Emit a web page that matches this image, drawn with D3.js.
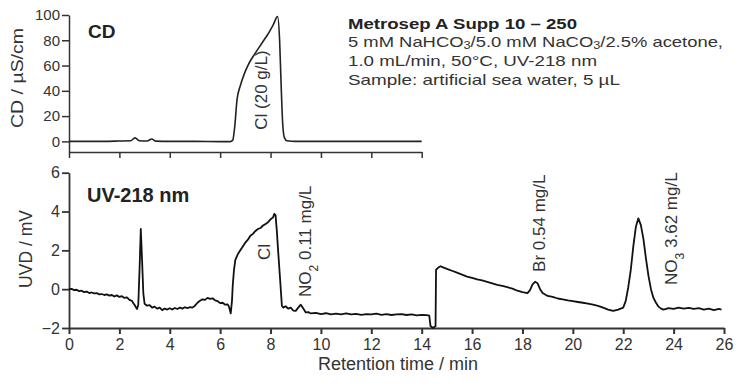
<!DOCTYPE html>
<html>
<head>
<meta charset="utf-8">
<script src="https://cdn.jsdelivr.net/npm/d3@7"></script>
<style>
    body { margin: 0; background: #fff; }
    svg { font-family: Arial, "Liberation Sans", Helvetica, sans-serif; }
    .axis text { fill: #333; }
    .axis path, .axis line { stroke: #333; }
</style>
</head>
<body>
<svg id="chart" width="750" height="386"></svg>
<script>
// Conductivity trace (top panel), time in min, signal in µS/cm
const cdTime = [0, 1, 2, 2.45, 2.62, 2.8, 3.1, 3.28, 3.45, 4, 5, 6, 6.4, 6.5, 6.58, 6.67,
    6.8, 6.95, 7.1, 7.3, 7.5, 7.7, 7.9, 8.1, 8.28, 8.36, 8.42, 8.48, 8.55, 8.65, 9, 10, 12, 14];
const cdSignal = [0, 0, 0.3, 0.5, 2.8, 0.5, 0.3, 1.9, 0.2, 0, 0, -0.2, -0.2, 1, 12, 33,
    44, 53, 60, 67, 73, 79, 85, 92, 98.7, 80, 45, 15, 3, 0.5, 0, 0, 0, 0];

// UV trace (bottom panel), time in min, signal in mV
const uvTime = [0, 0.1, 0.2, 0.3, 0.4, 0.5, 0.6, 0.7, 0.8, 0.9, 1.0, 1.1, 1.2, 1.3, 1.4, 1.5,
    1.6, 1.7, 1.8, 1.9, 2.0, 2.1, 2.2, 2.3, 2.4, 2.5, 2.55, 2.6, 2.65, 2.7, 2.75, 2.8, 2.85,
    2.9, 2.95, 3.0, 3.1, 3.2, 3.3, 3.4, 3.5, 3.6, 3.7, 3.8, 3.9, 4.0, 4.1, 4.2, 4.3, 4.4, 4.5,
    4.6, 4.7, 4.8, 4.9, 5.0, 5.1, 5.2, 5.3, 5.4, 5.5, 5.6, 5.7, 5.8, 5.9, 6.0, 6.1, 6.2, 6.3,
    6.35, 6.42, 6.47, 6.5, 6.55, 6.6, 6.7, 6.8, 6.9, 7.0, 7.1, 7.2, 7.3, 7.4, 7.5, 7.6, 7.7,
    7.8, 7.9, 8.0, 8.1, 8.15, 8.2, 8.25, 8.3, 8.38, 8.45, 8.5, 8.6, 8.7, 8.8, 8.9, 9.0, 9.1,
    9.2, 9.3, 9.4, 9.5, 9.6, 9.8, 10, 10.2, 10.4, 10.6, 10.8, 11, 11.2, 11.4, 11.6, 11.8, 12,
    12.2, 12.4, 12.6, 12.8, 13, 13.2, 13.4, 13.6, 13.8, 14, 14.2, 14.3, 14.35, 14.45, 14.55,
    14.57, 14.65, 14.75, 14.85, 15, 15.2, 15.4, 15.6, 15.8, 16, 16.2, 16.4, 16.6, 16.8, 17,
    17.2, 17.4, 17.6, 17.8, 18, 18.2, 18.3, 18.4, 18.5, 18.6, 18.7, 18.8, 19, 19.2, 19.4,
    19.6, 19.8, 20, 20.2, 20.4, 20.6, 20.8, 21, 21.2, 21.4, 21.6, 21.8, 22.0, 22.1, 22.2,
    22.3, 22.4, 22.5, 22.6, 22.7, 22.8, 22.9, 23.0, 23.1, 23.2, 23.3, 23.4, 23.5, 23.6, 23.8,
    24, 24.2, 24.4, 24.6, 24.8, 25, 25.2, 25.4, 25.6, 25.8, 25.9];
const uvSignal = [0.0, 0.02, -0.05, -0.03, -0.1, -0.08, -0.15, -0.12, -0.2, -0.17, -0.22, -0.2,
    -0.27, -0.25, -0.3, -0.27, -0.33, -0.3, -0.38, -0.32, -0.4, -0.36, -0.45, -0.42, -0.55,
    -0.6, -0.72, -0.8, -0.92, -1.02, -0.8, 1.0, 3.1, 1.5, -0.2, -0.75, -0.85, -0.82, -0.95,
    -0.9, -1.0, -0.95, -1.08, -1.0, -1.05, -0.98, -1.05, -0.97, -1.02, -0.95, -1.0, -0.93,
    -0.98, -0.92, -0.95, -0.85, -0.7, -0.6, -0.52, -0.55, -0.45, -0.5, -0.47, -0.58, -0.62,
    -0.72, -0.7, -0.8, -0.78, -0.9, -1.25, -0.6, 0.2, 1.0, 1.5, 1.8, 2.0, 2.2, 2.4, 2.55,
    2.75, 2.85, 3.0, 3.1, 3.15, 3.28, 3.35, 3.45, 3.6, 3.7, 3.88, 3.8, 3.0, 2.0, 0.5, -0.85,
    -0.95, -0.88, -1.0, -0.95, -1.1, -1.12, -0.95, -0.8, -1.0, -1.2, -1.18, -1.25, -1.22,
    -1.28, -1.24, -1.3, -1.26, -1.3, -1.25, -1.3, -1.27, -1.32, -1.28, -1.3, -1.26, -1.32,
    -1.29, -1.33, -1.3, -1.28, -1.33, -1.3, -1.35, -1.32, -1.34, -1.36, -1.9, -2.0, -1.9,
    1.0, 1.1, 1.18, 1.12, 1.05, 0.95, 0.85, 0.75, 0.65, 0.58, 0.5, 0.45, 0.38, 0.3, 0.22,
    0.17, 0.1, 0.03, -0.08, -0.15, -0.2, -0.05, 0.25, 0.38, 0.3, 0.0, -0.2, -0.35, -0.4,
    -0.48, -0.52, -0.58, -0.62, -0.66, -0.7, -0.74, -0.8, -0.86, -0.95, -1.05, -1.12, -1.05,
    -0.95, -0.6, 0.1, 1.0, 2.2, 3.2, 3.65, 3.3, 2.6, 1.6, 0.7, 0.0, -0.45, -0.7, -0.9, -1.0,
    -1.05, -0.98, -1.02, -0.95, -1.0, -0.96, -1.02, -0.98, -1.05, -1.0, -1.08, -1.02, -1.05];

const timeTicks = [0, 2, 4, 6, 8, 10, 12, 14, 16, 18, 20, 22, 24, 26];
const cdTimeTicks = [0, 2, 4, 6, 8, 10, 12, 14];
const cdTicks = [0, 20, 40, 60, 80, 100];
const uvTicks = [-2, 0, 2, 4, 6];

// method description, split into plain / subscript pieces
const infoLines = [
    [["Metrosep A Supp 10 – 250", false]],
    [["5 mM NaHCO", false], ["3", true], ["/5.0 mM NaCO", false], ["3", true], ["/2.5% acetone,", false]],
    [["1.0 mL/min, 50°C, UV-218 nm", false]],
    [["Sample: artificial sea water, 5 µL", false]]
];

// peak labels: panel, time and signal where the label starts
const peakLabels = [
    {panel: "cd", t: 7.86, v: 9.2, parts: [["Cl (20 g/L)", false]]},
    {panel: "uv", t: 7.98, v: 1.5, parts: [["Cl", false]]},
    {panel: "uv", t: 9.6, v: -0.4, parts: [["NO", false], ["2", true], [" 0.11 mg/L", false]]},
    {panel: "uv", t: 18.89, v: 0.89, parts: [["Br 0.54 mg/L", false]]},
    {panel: "uv", t: 24.13, v: 0.22, parts: [["NO", false], ["3", true], [" 3.62 mg/L", false]]}
];

const svg = d3.select('#chart');

const x = d3.scaleLinear().domain([0, 26]).range([69, 724]);
const xTop = d3.scaleLinear().domain([0, 14]).range([69, x(14)]);
const yCD = d3.scaleLinear().domain([-8.4, 100]).range([152, 15]);
const yUV = d3.scaleLinear().domain([-2, 6]).range([328, 172.7]);

// ---- top panel axes
svg.append('g').attr('class', 'axis')
    .attr('transform', 'translate(69,0)')
    .call(d3.axisLeft(yCD).tickValues(cdTicks).tickSize(7).tickSizeOuter(0).tickPadding(2))
    .call(g => g.selectAll('text').style('font-size', '15px'))
    .call(g => g.selectAll('path, line').style('stroke-width', 1.5));

svg.append('g').attr('class', 'axis')
    .attr('transform', 'translate(0,152)')
    .call(d3.axisBottom(xTop).tickValues(cdTimeTicks).tickSize(6).tickSizeOuter(0).tickFormat(''))
    .call(g => g.selectAll('path, line').style('stroke-width', 1.5));

// ---- bottom panel axes
svg.append('g').attr('class', 'axis')
    .attr('transform', 'translate(69,0)')
    .call(d3.axisLeft(yUV).tickValues(uvTicks).tickSize(7).tickSizeOuter(0).tickPadding(2))
    .call(g => g.selectAll('text').style('font-size', '16px'))
    .call(g => g.selectAll('path, line').style('stroke-width', 1.8));

svg.append('g').attr('class', 'axis')
    .attr('transform', 'translate(0,328)')
    .call(d3.axisBottom(x).tickValues(timeTicks).tickSize(6).tickSizeOuter(0).tickPadding(5))
    .call(g => g.selectAll('text').style('font-size', '16px'))
    .call(g => g.selectAll('path, line').style('stroke-width', 2));

// ---- traces
const cdLine = d3.line()
    .x(d => x(d[0]))
    .y(d => yCD(d[1]))
    .curve(d3.curveMonotoneX);

svg.append('path')
    .attr('d', cdLine(d3.zip(cdTime, cdSignal)))
    .attr('fill', 'none')
    .attr('stroke', '#222')
    .attr('stroke-width', 1.6);

const uvLine = d3.line()
    .x(d => x(d[0]))
    .y(d => yUV(d[1]));

svg.append('path')
    .attr('d', uvLine(d3.zip(uvTime, uvSignal)))
    .attr('fill', 'none')
    .attr('stroke', '#111')
    .attr('stroke-width', 1.8)
    .attr('stroke-linejoin', 'round');

// ---- titles
function addParts(text, parts, subSize, shift) {
    parts.forEach(p => {
        const ts = text.append('tspan').text(p[0]);
        if (p[1]) ts.attr('baseline-shift', shift).style('font-size', subSize);
    });
}

svg.append('text')
    .attr('x', 88).attr('y', 38)
    .style('font-size', '19px').style('font-weight', 'bold').attr('fill', '#222')
    .text('CD');

svg.append('text')
    .attr('x', 87).attr('y', 202)
    .style('font-size', '20px').style('font-weight', 'bold').attr('fill', '#222')
    .text('UV-218 nm');

svg.append('text')
    .attr('transform', 'translate(23,78) rotate(-90)')
    .attr('text-anchor', 'middle')
    .attr('textLength', 100).attr('lengthAdjust', 'spacingAndGlyphs')
    .style('font-size', '17px').attr('fill', '#333')
    .text('CD / µS/cm');

svg.append('text')
    .attr('transform', 'translate(32,249) rotate(-90)')
    .attr('text-anchor', 'middle')
    .style('font-size', '17.5px').attr('fill', '#333')
    .text('UVD / mV');

svg.append('text')
    .attr('x', 398).attr('y', 370)
    .attr('text-anchor', 'middle')
    .style('font-size', '18px').attr('fill', '#333')
    .text('Retention time / min');

// ---- method block
const infoBase = [29, 47, 66, 85];
const infoWidth = [229, 375, 249, 272];
infoLines.forEach((parts, i) => {
    const t = svg.append('text')
        .attr('x', 348).attr('y', infoBase[i])
        .attr('textLength', infoWidth[i]).attr('lengthAdjust', 'spacingAndGlyphs')
        .style('font-size', '14.5px')
        .style('font-weight', i === 0 ? 'bold' : 'normal')
        .attr('fill', i === 0 ? '#222' : '#333');
    addParts(t, parts, '10px', '-2px');
});

// ---- peak labels
peakLabels.forEach(p => {
    const yy = p.panel === 'cd' ? yCD(p.v) : yUV(p.v);
    const t = svg.append('text')
        .attr('transform', `translate(${x(p.t)},${yy}) rotate(-90)`)
        .style('font-size', '17px').attr('fill', '#333');
    addParts(t, p.parts, '12px', 'sub');
});
</script>
</body>
</html>
